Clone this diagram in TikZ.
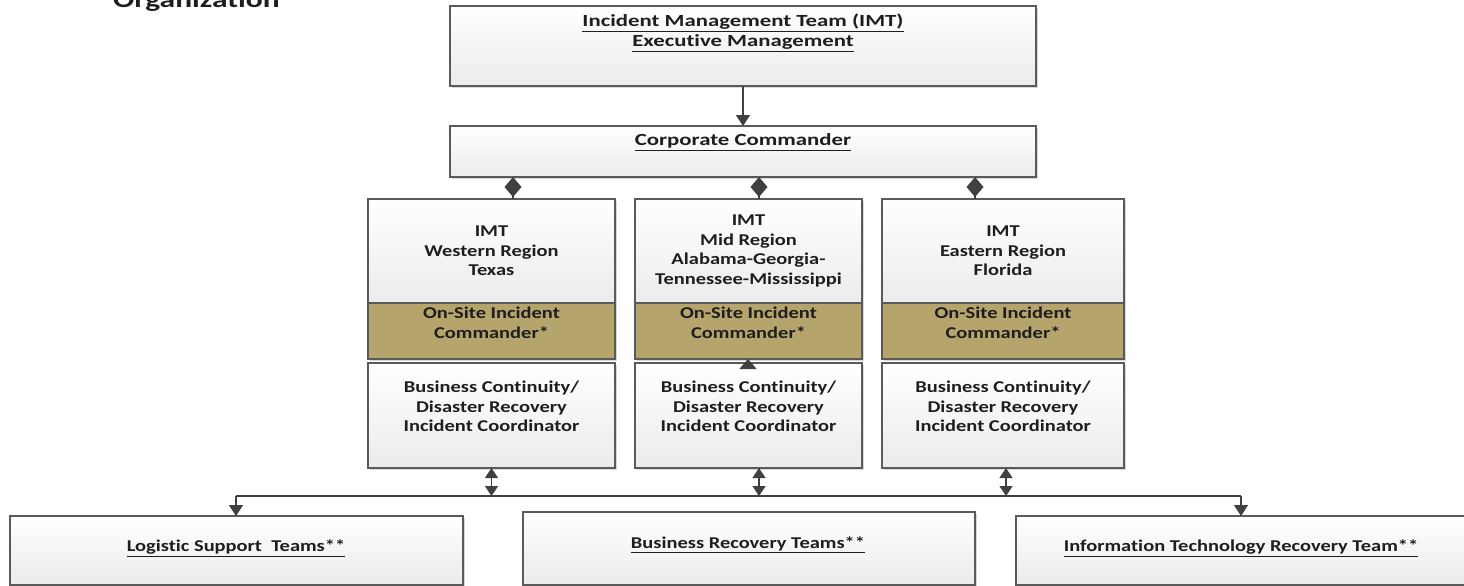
\documentclass[tikz,border=0pt]{standalone}
\usepackage{fontspec}
\setmainfont{Carlito}[FakeStretch=1.24,Ligatures=NoCommon]
\newfontfamily\headfont{Carlito}[FakeStretch=1.34,Ligatures=NoCommon]
\usetikzlibrary{arrows.meta,shadows}

\definecolor{edge}{HTML}{5A5A5A}
\definecolor{wirec}{HTML}{404040}
\definecolor{goldc}{HTML}{B5A46B}
\definecolor{ink}{HTML}{1E1E1E}
\definecolor{paleg}{HTML}{EBEBEB}

\tikzset{
  box/.style={draw=edge,line width=1.2pt,top color=white,bottom color=paleg,
    inner sep=0pt,outer sep=0pt,
    drop shadow={shadow xshift=2pt,shadow yshift=-2pt,fill=black!30,opacity=0.5}},
  goldbox/.style={draw=edge,line width=1.2pt,fill=goldc,inner sep=0pt,outer sep=0pt,
    drop shadow={shadow xshift=2pt,shadow yshift=-2pt,fill=black!30,opacity=0.5}},
  lbl/.style={text=ink,font=\bfseries\fontsize{16.5}{19.5}\selectfont,align=center,inner sep=0pt},
  head/.style={text=ink,font=\headfont\bfseries\fontsize{17}{20}\selectfont,align=center,inner sep=0pt},
  wire/.style={draw=wirec,line width=1.3pt},
  tipdown/.style={-{Triangle[length=11pt,width=14pt]}},
  tipup/.style={-{Triangle[length=10pt,width=17pt]}},
  twoway/.style={{Triangle[length=10pt,width=13pt]}-{Triangle[length=10pt,width=13pt]}},
  diam/.style={{Diamond[length=20pt,width=17pt]}-},
}

\begin{document}
\begin{tikzpicture}[x=1pt,y=-1pt]
\useasboundingbox (0,0) rectangle (1464,586);

% page heading, cut by the top edge
\node[anchor=base west,inner sep=0pt,text=ink,font=\headfont\bfseries\fontsize{23.5}{28}\selectfont]
  (heading) at (113,8) {Organization};

% executive level
\node[box,minimum width=586pt,minimum height=80pt] (imt) at (743,46) {};
\node[head] (imtT) at (743,33) {\underline{Incident Management Team (IMT)}\\\underline{Executive Management}};

\node[box,minimum width=586pt,minimum height=51pt] (corp) at (743,151.5) {};
\node[head] (corpT) at (743,142) {\underline{Corporate Commander}};

% western region
\node[box,minimum width=247pt,minimum height=104pt] (wW) at (491.5,251) {};
\node[goldbox,minimum width=247pt,minimum height=56pt] (gW) at (491.5,331) {};
\node[box,minimum width=247pt,minimum height=105pt] (cW) at (491.5,415.5) {};
\node[lbl] (wWT) at (491.5,251) {IMT\\Western Region\\Texas};
\node[lbl] (gWT) at (491.5,323) {On-Site Incident\\Commander*};
\node[lbl] (cWT) at (491.5,406.5) {Business Continuity/\\Disaster Recovery\\Incident Coordinator};

% mid region
\node[box,minimum width=227pt,minimum height=104pt] (wM) at (748.5,251) {};
\node[goldbox,minimum width=227pt,minimum height=56pt] (gM) at (748.5,331) {};
\node[box,minimum width=227pt,minimum height=105pt] (cM) at (748.5,415.5) {};
\node[lbl] (wMT) at (748.5,251) {IMT\\Mid Region\\Alabama-Georgia-\\Tennessee-Mississippi};
\node[lbl] (gMT) at (748.5,323) {On-Site Incident\\Commander*};
\node[lbl] (cMT) at (748.5,406.5) {Business Continuity/\\Disaster Recovery\\Incident Coordinator};

% eastern region
\node[box,minimum width=242pt,minimum height=104pt] (wE) at (1003,251) {};
\node[goldbox,minimum width=242pt,minimum height=56pt] (gE) at (1003,331) {};
\node[box,minimum width=242pt,minimum height=105pt] (cE) at (1003,415.5) {};
\node[lbl] (wET) at (1003,251) {IMT\\Eastern Region\\Florida};
\node[lbl] (gET) at (1003,323) {On-Site Incident\\Commander*};
\node[lbl] (cET) at (1003,406.5) {Business Continuity/\\Disaster Recovery\\Incident Coordinator};

% recovery teams
\node[box,minimum width=453pt,minimum height=69pt] (log) at (236.5,550.5) {};
\node[lbl] (logT) at (236,548) {\underline{Logistic Support\ \ Teams**}};
\node[box,minimum width=452pt,minimum height=73pt] (brt) at (749,548.5) {};
\node[lbl] (brtT) at (748,545) {\underline{Business Recovery Teams**}};
\node[box,minimum width=450pt,minimum height=69pt] (itr) at (1241,550.5) {};
\node[lbl] (itrT) at (1241,548) {\underline{Information Technology Recovery Team**}};

% connector columns
\coordinate (dW) at (513,0);
\coordinate (dM) at (759,0);
\coordinate (dE) at (975,0);
\coordinate (busL) at (236,496);
\coordinate (busR) at (1241,496);
\coordinate (busW) at (491.5,496);
\coordinate (busM) at (759,496);
\coordinate (busE) at (1006,496);
\coordinate (upM) at (748,0);

% connectors
\draw[wire,tipdown] (imt.south) -- (corp.north);
\draw[wire,diam] (dW |- corp.south) -- (dW |- wW.north);
\draw[wire,diam] (dM |- corp.south) -- (dM |- wM.north);
\draw[wire,diam] (dE |- corp.south) -- (dE |- wE.north);
\draw[wire,tipup] (upM |- cM.north) -- (upM |- gM.south);

\draw[wire] (busL) -- (busR);
\draw[wire,twoway] (busW |- cW.south) -- (busW);
\draw[wire,twoway] (busM |- cM.south) -- (busM);
\draw[wire,twoway] (busE |- cE.south) -- (busE);
\draw[wire,tipdown] (busL) -- (busL |- log.north);
\draw[wire,tipdown] (busR) -- (busR |- itr.north);
\end{tikzpicture}
\end{document}
